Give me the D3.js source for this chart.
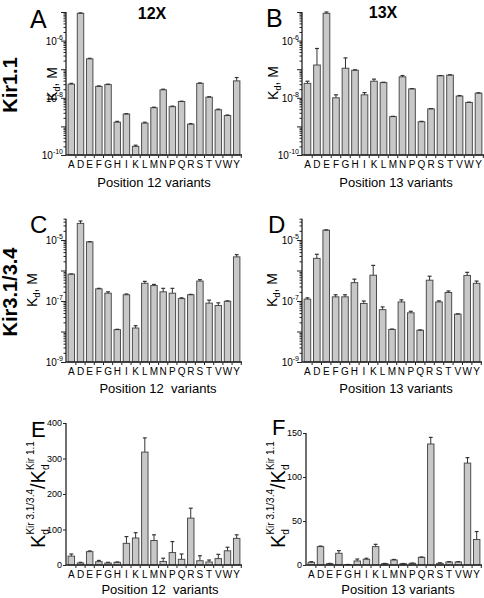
<!DOCTYPE html>
<html>
<head>
<meta charset="utf-8">
<script src="https://cdn.jsdelivr.net/npm/d3@7"></script>
<style>
  body { margin: 0; background: #fff; }
  svg text { font-family: "Liberation Sans", Arial, Helvetica, sans-serif; fill: #000; }
</style>
</head>
<body>
<script>
// ---------------- DATA ----------------
const categories = ["A","D","E","F","G","H","I","K","L","M","N","P","Q","R","S","T","V","W","Y"];

// Panel A: Kir1.1, position 12 variants (Kd, M) and upper error
const kir11Pos12    = [3.0e-8, 9.0e-6, 2.3e-7, 2.5e-8, 2.9e-8, 1.4e-9, 2.7e-9, 2.0e-10, 1.3e-9, 4.5e-9, 1.9e-8, 4.9e-9, 7.4e-9, 1.2e-9, 3.2e-8, 1.05e-8, 3.8e-9, 2.4e-9, 3.9e-8];
const kir11Pos12Err = [0.2e-8, 0.3e-6, 0.1e-7, 0.1e-8, 0.1e-8, 0.1e-9, 0.1e-9, 0.2e-10, 0.1e-9, 0.2e-9, 0.1e-8, 0.2e-9, 0.2e-9, 0.05e-9, 0.1e-8, 0.04e-8, 0.2e-9, 0.1e-9, 1.2e-8];

// Panel B: Kir1.1, position 13 variants
const kir11Pos13    = [3.2e-8, 1.4e-7, 9.0e-6, 1.0e-8, 1.08e-7, 9.2e-8, 1.27e-8, 3.8e-8, 3.4e-8, 2.2e-9, 5.4e-8, 2.05e-8, 1.45e-9, 4.1e-9, 5.9e-8, 6.2e-8, 1.15e-8, 6.9e-9, 1.45e-8];
const kir11Pos13Err = [0.6e-8, 3.9e-7, 1.0e-6, 0.27e-8, 1.4e-7, 0.3e-8, 0.25e-8, 0.7e-8, 0.1e-8, 0.05e-9, 0.6e-8, 0.05e-8, 0.05e-9, 0.1e-9, 0.1e-8, 0.2e-8, 0.05e-8, 0.1e-9, 0.05e-8];

// Panel C: Kir3.1/3.4, position 12 variants
const kir34Pos12    = [7.6e-7, 3.5e-5, 8.7e-6, 2.5e-7, 1.8e-7, 1.15e-8, 1.6e-7, 1.3e-8, 3.8e-7, 3.2e-7, 2.0e-7, 1.8e-7, 1.2e-7, 1.6e-7, 4.5e-7, 8.5e-8, 7.1e-8, 9.8e-8, 2.8e-6];
const kir34Pos12Err = [0.1e-7, 0.7e-5, 0.1e-6, 0.1e-7, 0.2e-7, 0.03e-8, 0.1e-7, 0.25e-8, 0.6e-7, 0.3e-7, 0.6e-7, 0.8e-7, 0.07e-7, 0.05e-7, 0.5e-7, 2.2e-8, 1.6e-8, 0.3e-8, 0.5e-6];

// Panel D: Kir3.1/3.4, position 13 variants
const kir34Pos13    = [1.15e-7, 2.5e-6, 2.1e-5, 1.37e-7, 1.37e-7, 4.0e-7, 8.3e-8, 7.0e-7, 5.2e-8, 1.17e-8, 9.3e-8, 4.1e-8, 1.1e-8, 4.8e-7, 9.3e-8, 1.9e-7, 3.7e-8, 6.9e-7, 3.8e-7];
const kir34Pos13Err = [0.12e-7, 0.9e-6, 0.05e-5, 0.23e-7, 0.23e-7, 1.2e-7, 1.7e-8, 7.7e-7, 1.2e-8, 0.03e-8, 1.6e-8, 0.5e-8, 0.03e-8, 1.7e-7, 0.8e-8, 0.23e-7, 0.1e-8, 1.8e-7, 0.7e-7];

// Panel E: selectivity ratio, position 12
const ratioPos12    = [25, 5.6, 37.6, 9.4, 5.6, 7.5, 61, 76, 318, 69, 10, 35, 16, 132, 12, 8.5, 18, 40, 75];
const ratioPos12Err = [6, 2, 2, 3.5, 2, 1, 19, 15, 40, 16, 9, 31, 15, 28, 14, 5.5, 12, 10, 10];

// Panel F: selectivity ratio, position 13
const ratioPos13    = [3, 20.9, 1.5, 13.3, 0.4, 4.6, 6.5, 20.9, 1.5, 5.7, 1.5, 1.9, 8.7, 137.5, 1.9, 3.4, 3.4, 115.8, 29];
const ratioPos13Err = [0.8, 0.6, 0.3, 3, 0.2, 2.2, 1.1, 2.6, 0.3, 0.6, 0.2, 0.3, 0.4, 7.5, 0.6, 0.4, 0.4, 6.2, 9];

const logLabelsAB = [-10, -8, -6];
const logLabelsCD = [-9, -7, -5];
const linTicksE = [0, 100, 200, 300, 400];
const linTicksF = [0, 50, 100, 150];

// ---------------- DRAWING ----------------
const svg = d3.select("body").append("svg").attr("width", 484).attr("height", 598);

const BAR_FILL = "#c8c8c8", BAR_STROKE = "#4d4d4d", AXIS = "#222";

function drawPanel(o) {
  const g = svg.append("g");
  const x = d3.scaleBand().domain(categories).range([o.x0, o.x1]).paddingInner(0.3).paddingOuter(0.12);
  const y = o.log ? d3.scaleLog().domain(o.domain).range([o.yb, o.yt])
                  : d3.scaleLinear().domain(o.domain).range([o.yb, o.yt]);
  const base = o.yb;
  const ax = o.x0 - 1;

  // bars
  g.selectAll("rect.bar").data(categories).join("rect")
    .attr("x", d => x(d)).attr("width", x.bandwidth())
    .attr("y", (d, i) => y(o.vals[i])).attr("height", (d, i) => base - y(o.vals[i]))
    .attr("fill", BAR_FILL).attr("stroke", BAR_STROKE).attr("stroke-width", 1);

  // error bars (upper only)
  const cap = x.bandwidth() * 0.6;
  const eg = g.selectAll("g.err").data(categories).join("g");
  eg.append("line")
    .attr("x1", d => x(d) + x.bandwidth() / 2).attr("x2", d => x(d) + x.bandwidth() / 2)
    .attr("y1", (d, i) => y(o.vals[i])).attr("y2", (d, i) => y(o.vals[i] + o.errs[i]))
    .attr("stroke", "#333").attr("stroke-width", 1);
  eg.append("line")
    .attr("x1", d => x(d) + x.bandwidth() / 2 - cap / 2).attr("x2", d => x(d) + x.bandwidth() / 2 + cap / 2)
    .attr("y1", (d, i) => y(o.vals[i] + o.errs[i])).attr("y2", (d, i) => y(o.vals[i] + o.errs[i]))
    .attr("stroke", "#333").attr("stroke-width", 1.2);

  // y axis
  if (o.log) {
    const lo = Math.round(Math.log10(o.domain[0])), hi = Math.ceil(Math.log10(o.domain[1]));
    const majors = [], minors = [];
    for (let k = lo; k <= hi; k++) {
      const v = Math.pow(10, k);
      if (v >= o.domain[0] * 0.999 && v <= o.domain[1] * 1.001) majors.push(v);
      for (let m = 2; m <= 9; m++) { const mv = m * v; if (mv <= o.domain[1] * 1.001 && mv >= o.domain[0]) minors.push(mv); }
    }
    const aMaj = g.append("g").attr("transform", `translate(${ax},0)`)
      .call(d3.axisLeft(y).tickValues(majors).tickSize(5).tickFormat(""));
    const aMin = g.append("g").attr("transform", `translate(${ax},0)`)
      .call(d3.axisLeft(y).tickValues(minors).tickSize(2.5).tickFormat(""));
    [aMaj, aMin].forEach(a => { a.selectAll("path").attr("stroke", AXIS).attr("stroke-width", 1.3); a.selectAll("line").attr("stroke", AXIS); });
    aMaj.select("path").attr("d", `M-0,${y(o.domain[1])}V${base}`);
    aMin.select("path").remove();
    o.labels.forEach(k => {
      const t = g.append("text").attr("x", ax - 3).attr("y", y(Math.pow(10, k)) + 4)
        .attr("text-anchor", "end").attr("font-size", 10).attr("fill", "#000");
      t.append("tspan").text("10");
      t.append("tspan").text("-" + Math.abs(k)).attr("font-size", 7).attr("dy", -5);
    });
  } else {
    const a = g.append("g").attr("transform", `translate(${ax},0)`)
      .call(d3.axisLeft(y).tickValues(o.ticks).tickSize(3).tickPadding(1));
    a.select("path").attr("stroke", AXIS).attr("stroke-width", 1.3).attr("d", `M-0,${o.yt}V${base}`);
    a.selectAll("line").attr("stroke", AXIS);
    a.selectAll("text").attr("font-size", 9).attr("fill", "#000").attr("font-family", "Liberation Sans, Arial, sans-serif");
  }

  // x axis
  const xa = g.append("g").attr("transform", `translate(0,${base})`)
    .call(d3.axisBottom(x).tickSize(0).tickPadding(6));
  xa.select("path").attr("d", `M${ax},0H${o.x1 + 1}`).attr("stroke", AXIS).attr("stroke-width", 1.3);
  xa.selectAll("text").attr("font-size", 10).attr("fill", "#000").attr("font-family", "Liberation Sans, Arial, sans-serif");
  const step = x.step();
  const bounds = categories.map(d => x(d) + x.bandwidth() + (step - x.bandwidth()) / 2);
  g.selectAll("line.xt").data(bounds).join("line")
    .attr("x1", d => d).attr("x2", d => d).attr("y1", base).attr("y2", base + 3)
    .attr("stroke", AXIS).attr("stroke-width", 1);
}

drawPanel({ vals: kir11Pos12, errs: kir11Pos12Err, x0: 67, x1: 241, log: true, domain: [1e-10, 1e-5], yb: 155, yt: 12, labels: logLabelsAB });
drawPanel({ vals: kir11Pos13, errs: kir11Pos13Err, x0: 303, x1: 483, log: true, domain: [1e-10, 1e-5], yb: 155, yt: 12, labels: logLabelsAB });
drawPanel({ vals: kir34Pos12, errs: kir34Pos12Err, x0: 67, x1: 241, log: true, domain: [1e-9, 5e-5], yb: 362, yt: 362 - 30.5 * (Math.log10(5e-5) + 9), labels: logLabelsCD });
drawPanel({ vals: kir34Pos13, errs: kir34Pos13Err, x0: 303, x1: 481, log: true, domain: [1e-9, 5e-5], yb: 362, yt: 362 - 30.5 * (Math.log10(5e-5) + 9), labels: logLabelsCD });
drawPanel({ vals: ratioPos12, errs: ratioPos12Err, x0: 67, x1: 241, log: false, domain: [0, 400], yb: 565, yt: 423, ticks: linTicksE });
drawPanel({ vals: ratioPos13, errs: ratioPos13Err, x0: 307, x1: 481, log: false, domain: [0, 150], yb: 565, yt: 433, ticks: linTicksF });

// ---------------- TEXT ----------------
function txt(x, y, s, size, opts = {}) {
  return svg.append("text").attr("x", x).attr("y", y).attr("font-size", size)
    .attr("text-anchor", opts.anchor || "start").attr("font-weight", opts.bold ? "bold" : "normal")
    .style("white-space", "pre").text(s);
}
// panel letters
txt(30, 28, "A", 25); txt(266, 27, "B", 25);
txt(30, 233, "C", 24); txt(268, 233, "D", 24);
txt(31, 437, "E", 22); txt(272, 435, "F", 22);
// headers
txt(152, 18.5, "12X", 16, { anchor: "middle", bold: true });
txt(383, 17.5, "13X", 16, { anchor: "middle", bold: true });
// position labels
txt(154, 187, "Position 12 variants", 13, { anchor: "middle" });
txt(396, 187, "Position 13 variants", 13, { anchor: "middle" });
txt(158, 393, "Position 12  variants", 13, { anchor: "middle" });
txt(396, 393, "Position 13 variants", 13, { anchor: "middle" });
txt(160, 594, "Position 12  variants", 13, { anchor: "middle" });
txt(398, 594, "Position 13 variants", 13, { anchor: "middle" });

// row labels (rotated)
function rot(x, y, size, anchor, bold) {
  return svg.append("text").attr("transform", `translate(${x},${y}) rotate(-90)`)
    .attr("font-size", size).attr("text-anchor", anchor).attr("font-weight", bold ? "bold" : "normal")
    .style("white-space", "pre");
}
rot(17, 85, 20, "middle", true).text("Kir1.1");
rot(17, 292, 20, "middle", true).text("Kir3.1/3.4");

// Kd, M labels
function kdLabel(x, y) {
  const t = rot(x, y, 14, "middle", false);
  t.append("tspan").text("K");
  t.append("tspan").text("d").attr("font-size", 9).attr("dy", 3);
  t.append("tspan").text(", M").attr("dy", -3);
}
kdLabel(57, 84); kdLabel(278, 83); kdLabel(37, 290); kdLabel(277, 290);

// ratio labels
function ratioLabel(x, y) {
  const t = rot(x, y, 20, "start", false);
  t.append("tspan").text("K");
  t.append("tspan").text("d").attr("font-size", 10).attr("dy", 4);
  t.append("tspan").text("Kir 3.1/3.4").attr("font-size", 10).attr("dx", -5.5).attr("dy", -15);
  t.append("tspan").text("/K").attr("dy", 11);
  t.append("tspan").text("d").attr("font-size", 10).attr("dy", 4);
  t.append("tspan").text("Kir 1.1").attr("font-size", 10).attr("dx", -5.5).attr("dy", -15);
}
ratioLabel(45, 548);
ratioLabel(285, 548);
</script>
</body>
</html>
